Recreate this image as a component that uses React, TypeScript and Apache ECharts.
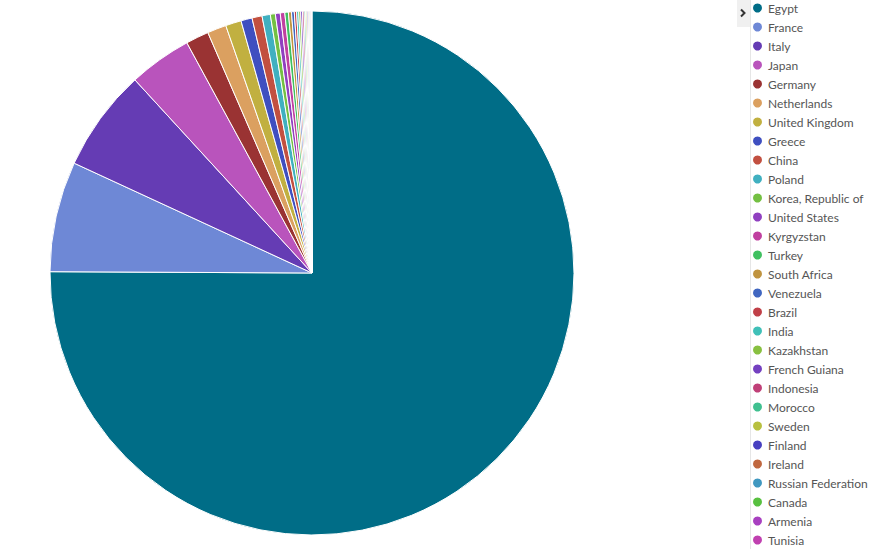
import React, { useEffect, useRef } from "react";
import * as echarts from "echarts";

const countries = [
  "Egypt", "France", "Italy", "Japan", "Germany", "Netherlands", "United Kingdom",
  "Greece", "China", "Poland", "Korea, Republic of", "United States", "Kyrgyzstan",
  "Turkey", "South Africa", "Venezuela", "Brazil", "India", "Kazakhstan",
  "French Guiana", "Indonesia", "Morocco", "Sweden", "Finland", "Ireland",
  "Russian Federation", "Canada", "Armenia", "Tunisia",
];

const values = [
  7514, 681, 631, 389, 142, 117, 97, 69, 62, 51, 31, 30, 28, 22, 19, 17, 14, 13,
  12, 11, 10, 9, 8, 7, 6, 5.5, 5, 4, 3.5,
];

const colors = [
  "#006d87", "#6e88d6", "#653cb4", "#b954bc", "#9a3333", "#dba060", "#c1b040",
  "#3f4fc0", "#c25040", "#40b0c0", "#74c042", "#9040c0", "#c040a0", "#40c060",
  "#c09440", "#4066c0", "#c04048", "#40c0b8", "#88c040", "#7440c0", "#c04078",
  "#40c090", "#b8c040", "#4840c0", "#c06840", "#4098c0", "#58c040", "#a840c0",
  "#c040b0",
];

export default function App() {
  const ref = useRef<HTMLDivElement>(null);

  useEffect(() => {
    document.body.style.margin = "0";
    if (!ref.current) return;
    const chart = echarts.init(ref.current, undefined, { renderer: "svg" });
    chart.setOption({
      animation: false,
      backgroundColor: "#ffffff",
      color: colors,
      legend: {
        orient: "vertical",
        left: 746,
        top: -4,
        height: 620,
        icon: "circle",
        itemWidth: 11,
        itemHeight: 11,
        itemGap: 5,
        textStyle: {
          fontFamily: "Lato",
          fontSize: 12,
          color: "#555555",
          lineHeight: 14,
        },
        data: countries,
      },
      graphic: [
        {
          type: "line",
          shape: { x1: 750.5, y1: 0, x2: 750.5, y2: 549 },
          style: { stroke: "#e6e6e6", lineWidth: 1 },
        },
        {
          type: "rect",
          shape: { x: 737, y: 0, width: 13, height: 27 },
          style: { fill: "#f0f0f0" },
        },
        {
          type: "polyline",
          shape: { points: [[741, 9.5], [744.5, 13], [741, 16.5]] },
          style: { stroke: "#333333", lineWidth: 2, fill: "none" },
        },
      ],
      series: [
        {
          type: "pie",
          center: [312, 273],
          radius: [0, 262],
          startAngle: 90,
          clockwise: true,
          label: { show: false },
          labelLine: { show: false },
          itemStyle: { borderColor: "#ffffff", borderWidth: 1 },
          emphasis: { disabled: true },
          data: countries.map((name, i) => ({ name, value: values[i] })),
        },
      ],
    });
    return () => chart.dispose();
  }, []);

  return <div ref={ref} style={{ width: 882, height: 549 }} />;
}
